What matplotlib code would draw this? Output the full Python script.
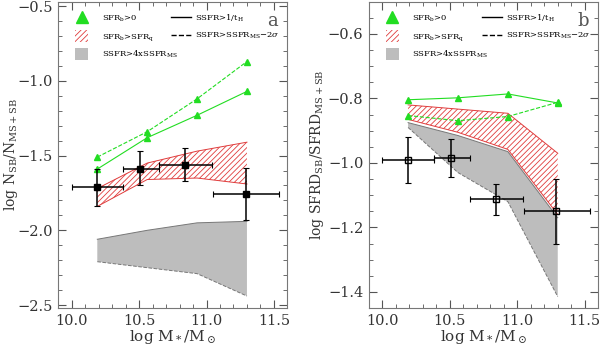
import numpy as np
import matplotlib
matplotlib.use("Agg")
import matplotlib.pyplot as plt
from matplotlib.lines import Line2D
from matplotlib.patches import Patch
from matplotlib.ticker import MultipleLocator

plt.rcParams['font.family'] = 'DejaVu Serif'
plt.rcParams['mathtext.fontset'] = 'dejavuserif'
plt.rcParams['hatch.linewidth'] = 0.6

# masses of the model curves
mass = [10.19, 10.56, 10.93, 11.30]

# panel a : N_SB / N_MS+SB
a_green_solid = [-1.59, -1.38, -1.23, -1.07]
a_green_dash = [-1.51, -1.34, -1.12, -0.87]
a_red_top = [-1.72, -1.55, -1.47, -1.41]
a_red_bot = [-1.84, -1.66, -1.65, -1.69]
a_grey_top = [-2.06, -2.00, -1.95, -1.94]
a_grey_bot = [-2.21, -2.25, -2.29, -2.44]
a_pts_x = [10.19, 10.51, 10.84, 11.29]
a_pts_y = [-1.71, -1.59, -1.56, -1.76]
a_pts_yerr_lo = [0.13, 0.11, 0.11, 0.17]
a_pts_yerr_hi = [0.12, 0.12, 0.11, 0.18]

# panel b : SFRD_SB / SFRD_MS+SB
b_green_solid = [-0.804, -0.798, -0.786, -0.814]
b_green_dash = [-0.853, -0.869, -0.856, -0.812]
b_red_top = [-0.820, -0.833, -0.846, -0.970]
b_red_bot = [-0.865, -0.905, -0.958, -1.160]
b_grey_top = [-0.875, -0.915, -0.965, -1.170]
b_grey_bot = [-0.890, -1.030, -1.120, -1.415]
b_pts_x = [10.19, 10.51, 10.84, 11.29]
b_pts_y = [-0.992, -0.986, -1.113, -1.150]
b_pts_yerr_lo = [0.071, 0.059, 0.049, 0.102]
b_pts_yerr_hi = [0.074, 0.061, 0.047, 0.100]

# mass bins for the horizontal error bars
bin_lo = [10.00, 10.38, 10.65, 11.05]
bin_hi = [10.38, 10.65, 11.04, 11.54]

green = '#22dd22'
red = '#e03c3c'
grey = '#bdbdbd'


def draw_panel(ax, gs, gd, rt, rb, gt, gb, px, py, elo, ehi, ylab, letter, filled):
    ax.fill_between(mass, gb, gt, facecolor=grey, edgecolor='none', zorder=1)
    ax.plot(mass, gt, color='#777777', lw=0.7, zorder=1.5)
    ax.plot(mass, gb, color='#777777', lw=0.7, ls='--', zorder=1.5)
    ax.fill_between(mass, rb, rt, facecolor='none', edgecolor=red, hatch='//////',
                    lw=0, zorder=2)
    ax.plot(mass, rt, color=red, lw=0.7, zorder=2)
    ax.plot(mass, rb, color=red, lw=0.7, zorder=2)
    ax.plot(mass, gs, color=green, lw=0.8, marker='^', ms=5, zorder=3)
    ax.plot(mass, gd, color=green, lw=0.8, ls='--', marker='^', ms=5, zorder=3)
    xl = np.array(px) - np.array(bin_lo)
    xh = np.array(bin_hi) - np.array(px)
    ax.errorbar(px, py, xerr=[xl, xh], yerr=[elo, ehi], fmt='s', ms=4,
                mfc='black' if filled else 'none', mec='black', ecolor='black',
                elinewidth=1.1, capsize=2, capthick=0.8, zorder=4)

    ax.set_xlim(9.9, 11.6)
    ax.xaxis.set_major_locator(MultipleLocator(0.5))
    ax.xaxis.set_minor_locator(MultipleLocator(0.1))
    ax.tick_params(which='both', direction='in', top=True, right=True,
                   colors='#555555', labelcolor='#333333', labelsize=10.5)
    ax.tick_params(which='major', length=6, pad=4)
    ax.tick_params(which='minor', length=3)
    for sp in ax.spines.values():
        sp.set_color('#777777')
        sp.set_linewidth(0.8)
    ax.set_xlabel(r'log M$_*$/M$_\odot$', fontsize=11, color='#333333', labelpad=0)
    ax.set_ylabel(ylab, fontsize=10, color='#333333', labelpad=1)
    ax.text(0.96, 0.965, letter, transform=ax.transAxes, ha='right', va='top',
            fontsize=13, color='#555555')

    h1 = [
        Line2D([], [], ls='none', marker='^', color=green, ms=9),
        Patch(facecolor='none', edgecolor=red, hatch='//////', lw=0),
        Patch(facecolor=grey, edgecolor='none'),
    ]
    l1 = [r'SFR$_\mathregular{b}$>0', r'SFR$_\mathregular{b}$>SFR$_\mathregular{q}$',
          r'SSFR>4xSSFR$_\mathregular{MS}$']
    leg1 = ax.legend(h1, l1, loc='upper left', frameon=False, fontsize=6,
                     handlelength=1.6, handleheight=1.9, handletextpad=1.6,
                     bbox_to_anchor=(0.04, 0.99), labelspacing=0.6)
    ax.add_artist(leg1)
    h2 = [
        Line2D([], [], color='black', lw=1),
        Line2D([], [], color='black', lw=1, ls='--'),
    ]
    l2 = [r'SSFR>1/t$_\mathregular{H}$', r'SSFR>SSFR$_\mathregular{MS}$$-$2$\sigma$']
    ax.legend(h2, l2, loc='upper left', frameon=False, fontsize=6,
              handlelength=2.4, handletextpad=0.5,
              bbox_to_anchor=(0.46, 0.99), labelspacing=0.9)


fig = plt.figure(figsize=(6, 3.5), dpi=100)
ax1 = fig.add_axes([0.097, 0.12, 0.382, 0.875])
ax2 = fig.add_axes([0.615, 0.12, 0.382, 0.875])

draw_panel(ax1, a_green_solid, a_green_dash, a_red_top, a_red_bot, a_grey_top, a_grey_bot,
           a_pts_x, a_pts_y, a_pts_yerr_lo, a_pts_yerr_hi,
           r'log N$_\mathregular{SB}$/N$_\mathregular{MS+SB}$', 'a', True)
ax1.set_ylim(-2.52, -0.47)
ax1.yaxis.set_major_locator(MultipleLocator(0.5))
ax1.yaxis.set_minor_locator(MultipleLocator(0.1))
ax1.yaxis.set_label_coords(-0.165, 0.5)

draw_panel(ax2, b_green_solid, b_green_dash, b_red_top, b_red_bot, b_grey_top, b_grey_bot,
           b_pts_x, b_pts_y, b_pts_yerr_lo, b_pts_yerr_hi,
           r'log SFRD$_\mathregular{SB}$/SFRD$_\mathregular{MS+SB}$', 'b', False)
ax2.set_ylim(-1.45, -0.5)
ax2.yaxis.set_major_locator(MultipleLocator(0.2))
ax2.yaxis.set_minor_locator(MultipleLocator(0.05))

fig.savefig('out.png', dpi=100)
